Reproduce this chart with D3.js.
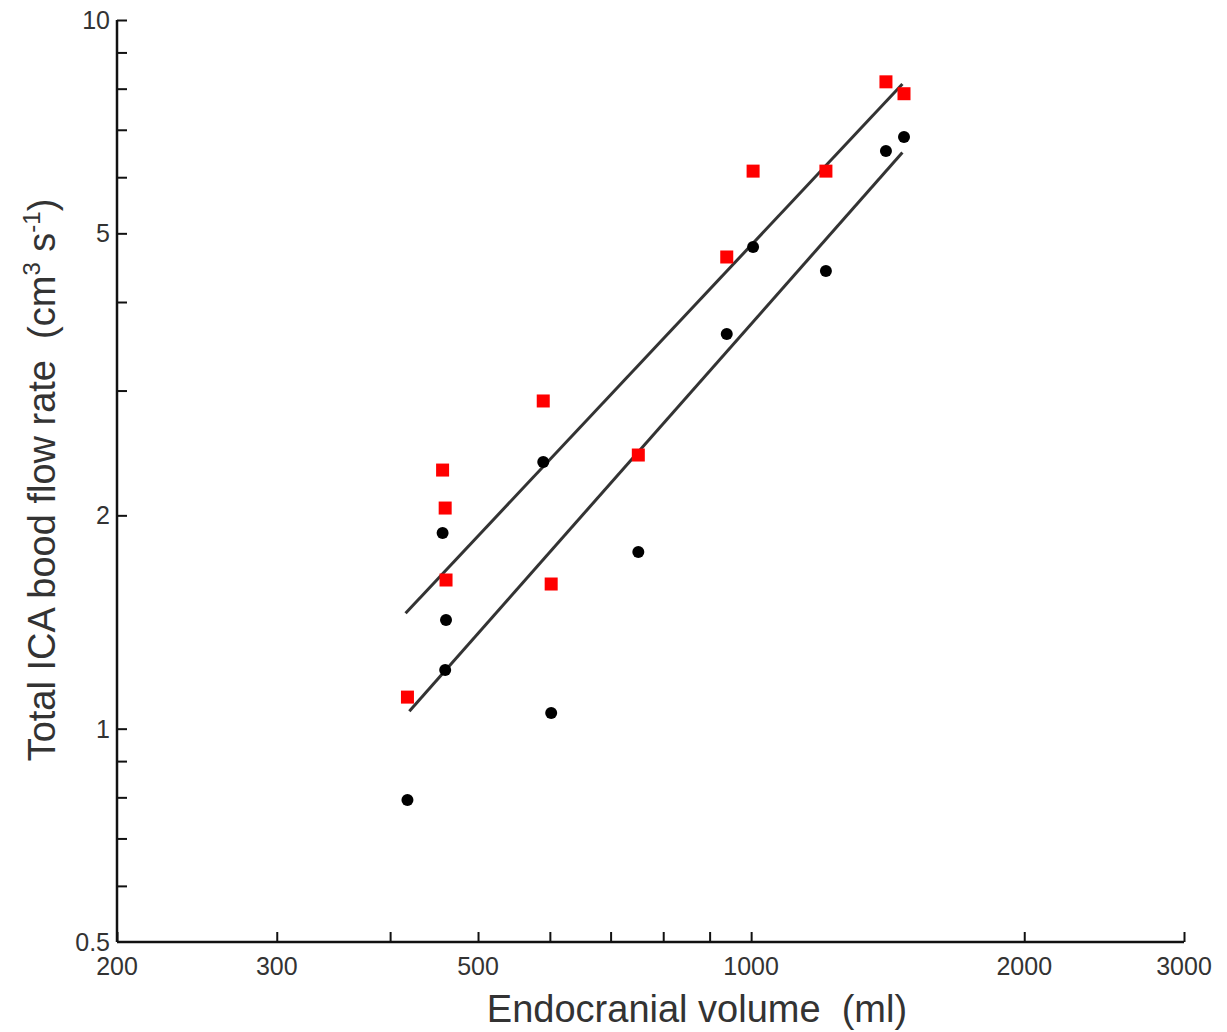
<!DOCTYPE html>
<html>
<head>
<meta charset="utf-8">
<script src="https://cdn.jsdelivr.net/npm/d3@7"></script>
<style>
  body { margin: 0; background: #fff; }
  svg { display: block; }
  text { font-family: "Liberation Sans", Arial, sans-serif; fill: #333; white-space: pre; }
</style>
</head>
<body>
<svg id="chart" width="1227" height="1032"></svg>
<script>
// Data
const volume = [418, 457, 460, 461, 590, 602, 751, 940, 1005, 1209, 1408, 1474];
const redFlow = [1.108, 2.317, 2.048, 1.621, 2.900, 1.600, 2.433, 4.63, 6.12, 6.12, 8.18, 7.87];
const blackVolume = [418, 457, 461, 460, 590, 602, 751, 940, 1005, 1209, 1408, 1474];
const blackFlow = [0.793, 1.889, 1.423, 1.210, 2.378, 1.052, 1.776, 3.605, 4.782, 4.424, 6.535, 6.84];
const redFit = [[416, 1.455], [1468, 8.12]];
const blackFit = [[420, 1.058], [1468, 6.50]];
const xTicks = [200, 300, 400, 500, 600, 700, 800, 900, 1000, 2000, 3000];
const xLabels = [200, 300, 500, 1000, 2000, 3000];
const yTicks = [0.6, 0.7, 0.8, 0.9, 1, 2, 3, 4, 5, 6, 7, 8, 9, 10];
const yLabels = [0.5, 1, 2, 5, 10];

const svg = d3.select("#chart");
const x = d3.scaleLog().domain([200, 3000]).range([117, 1184]);
const y = d3.scaleLog().domain([0.5, 10]).range([942, 20]);

// Axes
const xAxis = d3.axisBottom(x).tickValues(xTicks).tickSize(-10).tickFormat("");
const gx = svg.append("g").attr("transform", "translate(0,942)").call(xAxis);
gx.select(".domain").attr("stroke", "#111").attr("stroke-width", 2.5).attr("d", "M117,0H1184");
gx.selectAll(".tick line").attr("stroke", "#111").attr("stroke-width", 2);

const yAxis = d3.axisLeft(y).tickValues(yTicks).tickSize(-10).tickFormat("");
const gy = svg.append("g").attr("transform", "translate(117,0)").call(yAxis);
gy.select(".domain").attr("stroke", "#111").attr("stroke-width", 2.5).attr("d", "M0,20V942");
gy.selectAll(".tick line").attr("stroke", "#111").attr("stroke-width", 2);

// Tick labels
svg.append("g").selectAll("text").data(xLabels).join("text")
  .attr("x", d => x(d)).attr("y", 975)
  .attr("text-anchor", "middle").attr("font-size", 25).text(d => d);
svg.append("g").selectAll("text").data(yLabels).join("text")
  .attr("x", 110).attr("y", d => y(d) + 9)
  .attr("text-anchor", "end").attr("font-size", 25).text(d => d);

// Axis titles
svg.append("text").attr("x", 697).attr("y", 1022).attr("text-anchor", "middle")
  .attr("font-size", 38).text("Endocranial volume  (ml)");
const yt = svg.append("text").attr("transform", "translate(55,480) rotate(-90)")
  .attr("text-anchor", "middle").attr("font-size", 38);
yt.append("tspan").text("Total ICA bood flow rate  (cm");
yt.append("tspan").attr("font-size", 24).attr("dy", -15).text("3");
yt.append("tspan").attr("dy", 15).text(" s");
yt.append("tspan").attr("font-size", 24).attr("dy", -15).text("-1");
yt.append("tspan").attr("dy", 15).text(")");

// Fit lines
const line = d3.line().x(d => x(d[0])).y(d => y(d[1]));
[redFit, blackFit].forEach(f => {
  svg.append("path").attr("d", line(f)).attr("fill", "none")
    .attr("stroke", "#333").attr("stroke-width", 3);
});

// Points
svg.append("g").selectAll("circle").data(blackVolume.map((v, i) => [v, blackFlow[i]])).join("circle")
  .attr("cx", d => x(d[0])).attr("cy", d => y(d[1])).attr("r", 6).attr("fill", "#000");
svg.append("g").selectAll("rect").data(volume.map((v, i) => [v, redFlow[i]])).join("rect")
  .attr("x", d => x(d[0]) - 6.5).attr("y", d => y(d[1]) - 6.5)
  .attr("width", 13).attr("height", 13).attr("fill", "#f00");
</script>
</body>
</html>
